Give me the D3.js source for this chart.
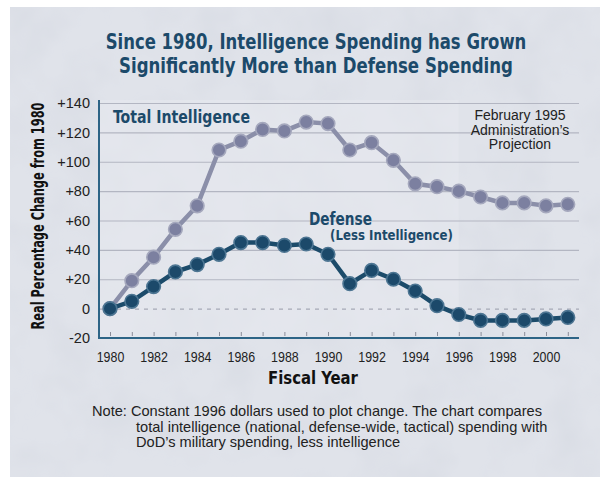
<!DOCTYPE html>
<html>
<head>
<meta charset="utf-8">
<script src="https://cdn.jsdelivr.net/npm/d3@7"></script>
<style>
  body { margin: 0; background: #fff; }
  svg { display: block; }
</style>
</head>
<body>
<svg></svg>
<script>
let svgWidth = 600;
let svgHeight = 477;

let years = [1980, 1981, 1982, 1983, 1984, 1985, 1986, 1987, 1988, 1989, 1990,
             1991, 1992, 1993, 1994, 1995, 1996, 1997, 1998, 1999, 2000, 2001];
let intelligence = [0, 19, 35, 54, 70, 108, 114, 122, 121, 127, 126,
                    108, 113, 101, 85, 83, 80, 76, 72, 72, 70, 71];
let defense = [0, 5, 15, 25, 30, 37, 45, 45, 43, 44, 37,
               17, 26, 20, 12, 2, -4, -8, -8, -8, -7, -6];
let yTicks = [-20, 0, 20, 40, 60, 80, 100, 120, 140];
let xTickLabels = [1980, 1982, 1984, 1986, 1988, 1990, 1992, 1994, 1996, 1998, 2000];
let projectionStart = 1996;

let titleLines = ["Since 1980, Intelligence Spending has Grown",
                  "Significantly More than Defense Spending"];
let noteLines = ["Note: Constant 1996 dollars used to plot change. The chart compares",
                 "total intelligence (national, defense-wide, tactical) spending with",
                 "DoD\u2019s military spending, less intelligence"];
let projectionLines = ["February 1995", "Administration\u2019s", "Projection"];

let narrow = "'DejaVu Sans Condensed', 'Liberation Sans Narrow', sans-serif";
let plain = "'Liberation Sans', Arial, sans-serif";
let navy = "#1c4a6a";

let svg = d3.select('svg').attr('width', svgWidth).attr('height', svgHeight);

// mottled paper background
let defs = svg.append('defs');
let f = defs.append('filter').attr('id', 'mottle').attr('x', 0).attr('y', 0).attr('width', '100%').attr('height', '100%');
f.append('feTurbulence').attr('type', 'fractalNoise').attr('baseFrequency', 0.02).attr('numOctaves', 3).attr('seed', 4);
f.append('feColorMatrix').attr('type', 'matrix')
  .attr('values', '0 0 0 0 0.62  0 0 0 0 0.65  0 0 0 0 0.72  0 0 0 -0.7 0.42');
f.append('feComposite').attr('in2', 'SourceGraphic').attr('operator', 'in');

let blur = defs.append('filter').attr('id', 'soft');
blur.append('feGaussianBlur').attr('stdDeviation', 0.6);

svg.append('rect').attr('x', 10).attr('y', 7).attr('width', 590).attr('height', 470).attr('fill', '#e0e3ea');
svg.append('rect').attr('x', 10).attr('y', 7).attr('width', 590).attr('height', 470).attr('fill', '#e0e3ea')
  .attr('filter', 'url(#mottle)');

let xScale = d3.scaleLinear().domain([1980, 2000]).range([110, 546]);
let yScale = d3.scaleLinear().domain([-20, 140]).range([338, 103]);
let plotLeft = 99, plotRight = 579, plotTop = 100, plotBottom = 338;

// lighter actual-data area
svg.append('rect')
  .attr('x', plotLeft).attr('y', plotTop)
  .attr('width', xScale(projectionStart) - plotLeft)
  .attr('height', plotBottom - plotTop)
  .attr('fill', '#e8eaef').attr('opacity', 0.5);

// squeeze a text horizontally to a given width (condensed look)
function squeezed(x, y, rot, len, txt, anchor, size, color) {
  let t = svg.append('text')
    .attr('x', 0).attr('y', 0)
    .attr('text-anchor', anchor)
    .attr('font-family', narrow).attr('font-weight', 'bold').attr('font-size', size)
    .attr('fill', color)
    .text(txt);
  let k = len / t.node().getComputedTextLength();
  t.attr('transform', 'translate(' + x + ',' + y + ') rotate(' + rot + ') scale(' + k + ',1)');
  return t;
}

// title
let titleWidths = [421, 394];
titleLines.forEach(function(t, i) {
  squeezed(316, 49 + i * 23.5, 0, titleWidths[i], t, 'middle', 22, navy);
});

// gridlines
let y_axis = d3.axisLeft(yScale).tickValues(yTicks)
  .tickSizeInner(-(plotRight - plotLeft)).tickSizeOuter(0).tickPadding(9)
  .tickFormat(function(d) { return d > 0 ? "+" + d : String(d); });
let gy = svg.append('g').attr('transform', 'translate(' + plotLeft + ',0)').call(y_axis);
gy.select('.domain').remove();
gy.selectAll('.tick line')
  .attr('stroke', function(d) { return d === 0 ? '#a6a9b6' : '#b3b6c2'; })
  .attr('stroke-width', function(d) { return d === -20 ? 0 : 1.2; })
  .attr('stroke-dasharray', function(d) { return d === 0 ? '4,5' : null; });
gy.selectAll('.tick text')
  .attr('font-family', plain).attr('font-size', 14.5).attr('fill', '#222');

// year ticks
let x_axis = d3.axisBottom(xScale).tickValues(years).tickSize(0).tickPadding(13)
  .tickFormat(function(d) { return xTickLabels.indexOf(d) >= 0 ? String(d) : ""; });
let gx = svg.append('g').attr('transform', 'translate(0,' + plotBottom + ')').call(x_axis);
gx.select('.domain').remove();
gx.selectAll('.tick').append('line')
  .attr('y1', -6).attr('y2', -2).attr('stroke', '#8a8d99').attr('stroke-width', 1);
gx.selectAll('.tick text')
  .attr('font-family', plain).attr('font-size', 15.5).attr('fill', '#222')
  .attr('transform', 'scale(0.8,1)');

// axis lines
svg.append('line').attr('x1', plotLeft).attr('x2', plotLeft).attr('y1', plotTop).attr('y2', plotBottom + 1)
  .attr('stroke', '#2d6486').attr('stroke-width', 2);
svg.append('line').attr('x1', plotLeft).attr('x2', plotRight).attr('y1', plotBottom).attr('y2', plotBottom)
  .attr('stroke', '#2d6486').attr('stroke-width', 2);

function draw_series(values, lineColor, dotColor, ringColor) {
  let pts = years.map(function(y, i) { return [xScale(y), yScale(values[i])]; });
  let g = svg.append('g').attr('filter', 'url(#soft)');
  g.append('path')
    .attr('d', d3.line().curve(d3.curveLinear)(pts))
    .attr('fill', 'none').attr('stroke', lineColor).attr('stroke-width', 4.5);
  g.selectAll('circle').data(pts).enter().append('circle')
    .attr('cx', function(d) { return d[0]; })
    .attr('cy', function(d) { return d[1]; })
    .attr('r', 6.8)
    .attr('fill', dotColor).attr('stroke', ringColor).attr('stroke-width', 1.6);
}

draw_series(intelligence, '#8b8fa9', '#7c80a0', '#a5a8bd');
draw_series(defense, '#1b4b6b', '#1a4a6b', '#4d7592');

// series labels
squeezed(113, 123, 0, 137, "Total Intelligence", 'start', 18, navy);
squeezed(309, 225, 0, 63, "Defense", 'start', 18, navy);
squeezed(330, 240, 0, 123, "(Less Intelligence)", 'start', 14, navy);

projectionLines.forEach(function(t, i) {
  svg.append('text').attr('x', 520).attr('y', 120 + i * 14.5)
    .attr('text-anchor', 'middle')
    .attr('font-family', plain).attr('font-size', 14).attr('fill', '#222')
    .text(t);
});

// axis titles
squeezed(44, 216, -90, 227, "Real Percentage Change from 1980", 'middle', 18, '#111');
squeezed(313, 384, 0, 90, "Fiscal Year", 'middle', 18, '#111');

// note
let noteX = [92, 136, 136];
noteLines.forEach(function(t, i) {
  svg.append('text').attr('x', noteX[i]).attr('y', 416 + i * 15.5)
    .attr('font-family', plain).attr('font-size', 14.6).attr('fill', '#222')
    .text(t);
});
</script>
</body>
</html>
